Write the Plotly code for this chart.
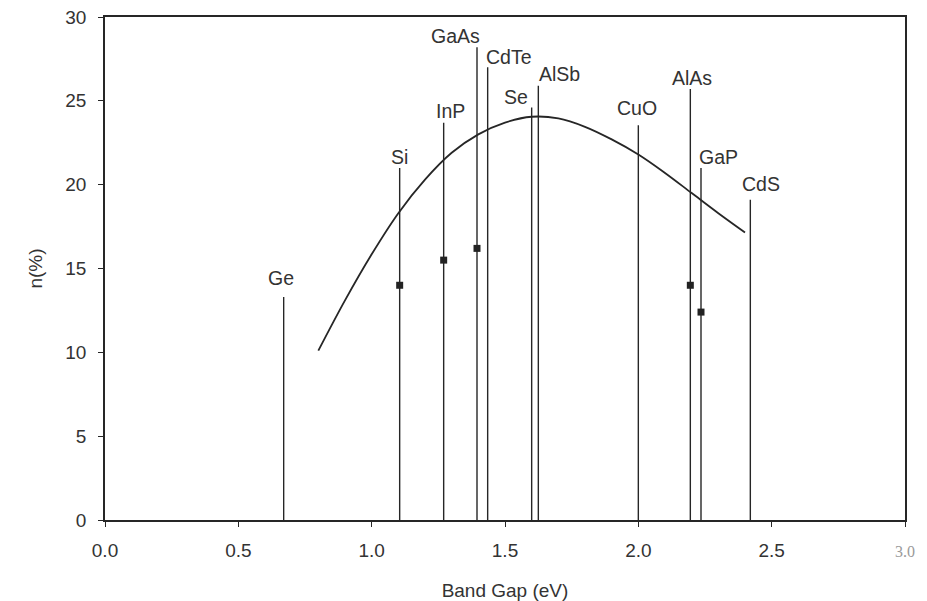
import plotly.graph_objects as go

# Materials and their band gaps (eV) with the height of each marker line (%)
materials = ["Ge", "Si", "InP", "GaAs", "CdTe", "Se", "AlSb", "CuO", "AlAs", "GaP", "CdS"]
band_gap = [0.67, 1.105, 1.27, 1.395, 1.435, 1.60, 1.625, 2.00, 2.195, 2.235, 2.42]
line_top = [13.3, 21.0, 23.7, 28.2, 27.0, 24.6, 25.9, 23.55, 25.7, 21.0, 19.1]

# Measured efficiencies (square markers)
meas_gap = [1.105, 1.27, 1.395, 2.195, 2.235]
meas_eff = [14.0, 15.5, 16.2, 14.0, 12.4]

# Theoretical efficiency curve (read at 0.1 eV steps)
curve_gap = [0.8, 0.9, 1.0, 1.1, 1.2, 1.3, 1.4, 1.5, 1.6, 1.7, 1.8, 1.9, 2.0, 2.1, 2.2, 2.3, 2.4]
curve_eff = [10.1, 13.1, 15.85, 18.3, 20.3, 21.9, 23.0, 23.7, 24.05, 23.95, 23.45, 22.7, 21.8, 20.7, 19.5, 18.3, 17.15]

x_ticks = [0.0, 0.5, 1.0, 1.5, 2.0, 2.5, 3.0]
x_tick_text = ["0.0", "0.5", "1.0", "1.5", "2.0", "2.5",
               "<span style='font-family:Liberation Serif;color:#9a9a9a;font-size:16px'>3.0</span>"]
y_ticks = [0, 5, 10, 15, 20, 25, 30]

# label pixel offsets (style only)
label_dx = [-3, 0, 7, -22, 21, -16, 21, -1, 2, 17, 11]
label_dy = [19, 11, 12, 11, 10, 11, 12, 17, 11, 11, 16]

ink = "#262626"
txt = "#333333"
fnt = "Liberation Sans, Arial"

vx, vy = [], []
for g, t in zip(band_gap, line_top):
    vx += [g, g, None]
    vy += [0, t, None]

fig = go.Figure()
fig.add_trace(go.Scatter(x=vx, y=vy, mode="lines",
                         line=dict(color=ink, width=1.4), hoverinfo="skip", showlegend=False))
fig.add_trace(go.Scatter(x=curve_gap, y=curve_eff, mode="lines", line_shape="spline",
                         line=dict(color=ink, width=1.8, smoothing=1), showlegend=False))
fig.add_trace(go.Scatter(x=meas_gap, y=meas_eff, mode="markers",
                         marker=dict(symbol="square", size=7, color="#222222"), showlegend=False))

for m, g, t, dx, dy in zip(materials, band_gap, line_top, label_dx, label_dy):
    fig.add_annotation(x=g, y=t, text=m, showarrow=False, xanchor="center", yanchor="middle",
                       xshift=dx, yshift=dy, font=dict(family=fnt, size=19.5, color=txt))

fig.update_layout(
    width=927, height=601,
    margin=dict(l=105, r=22, t=17, b=81),
    plot_bgcolor="white", paper_bgcolor="white",
    font=dict(family=fnt, size=19, color=txt),
)
fig.update_xaxes(range=[0, 3.0], tickvals=x_ticks, ticktext=x_tick_text, automargin=False,
                 showgrid=False, zeroline=False, showline=True, linecolor=ink, linewidth=1.5,
                 mirror=True, ticks="outside", ticklen=5, tickcolor=ink,
                 tickfont=dict(family=fnt, size=19, color=txt), ticklabelstandoff=7,
                 title=dict(text="Band Gap (eV)", standoff=27, font=dict(family=fnt, size=19, color=txt)))
fig.update_yaxes(range=[0, 30], tickvals=y_ticks, automargin=False,
                 showgrid=False, zeroline=False, showline=True, linecolor=ink, linewidth=1.5,
                 mirror=True, ticks="outside", ticklen=5, tickcolor=ink,
                 tickfont=dict(family=fnt, size=19, color=txt), ticklabelstandoff=8,
                 title=dict(text="n(%)", standoff=18, font=dict(family=fnt, size=19, color=txt)))

fig.write_html("out.html", config={"displayModeBar": False},
               post_script="document.body.style.margin='0';document.body.style.overflow='hidden';")
